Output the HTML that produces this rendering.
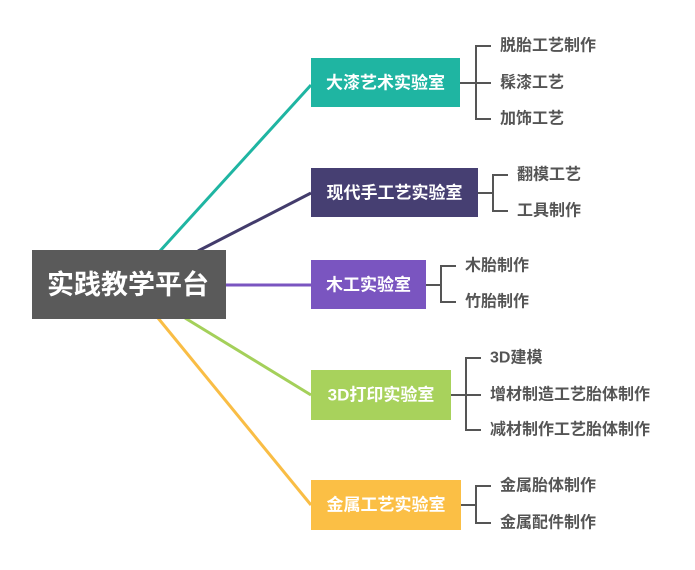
<!DOCTYPE html>
<html><head><meta charset="utf-8"><style>
html,body{margin:0;padding:0;background:#fff;}
svg{display:block;}
text{font-family:"Liberation Sans","Noto Sans CJK SC",sans-serif;font-weight:bold;dominant-baseline:central;}
.b{fill:#fff;font-size:17px;}
.l{fill:#555;font-size:16px;}
.br{fill:none;stroke:#555;stroke-width:2;}
</style></head><body>
<svg width="695" height="570" viewBox="0 0 695 570">
<g stroke-width="3" fill="none">
<path d="M160 251 L311 85" stroke="#1fb5a2"/>
<path d="M198 251 L311 193" stroke="#433c6c"/>
<path d="M226 285 L311 285" stroke="#7a55c0"/>
<path d="M185 318 L311 395" stroke="#a4d05a"/>
<path d="M158 318 L311 505" stroke="#f9bd45"/>
</g>
<rect x="32" y="250" width="194" height="69" fill="#5a5a5a"/>
<text x="128" y="285" text-anchor="middle" fill="#fff" style="font-size:27px">实践教学平台</text>

<rect x="311" y="58" width="149" height="49" fill="#1fb5a2"/>
<text class="b" x="385.5" y="83" text-anchor="middle">大漆艺术实验室</text>
<rect x="311" y="168" width="167" height="49" fill="#463f72"/>
<text class="b" x="394.5" y="193" text-anchor="middle">现代手工艺实验室</text>
<rect x="311" y="260" width="115" height="49" fill="#7a55c0"/>
<text class="b" x="368.5" y="285" text-anchor="middle">木工实验室</text>
<rect x="311" y="370" width="140" height="50" fill="#a8d25c"/>
<text class="b" x="381" y="395" text-anchor="middle">3D打印实验室</text>
<rect x="311" y="480" width="150" height="50" fill="#fbbf45"/>
<text class="b" x="386" y="505" text-anchor="middle">金属工艺实验室</text>

<path class="br" d="M460 83H476 M491 46H476V119H491 M476 83H491"/>
<text class="l" x="500" y="46">脱胎工艺制作</text>
<text class="l" x="500" y="83">髹漆工艺</text>
<text class="l" x="500" y="119">加饰工艺</text>

<path class="br" d="M478 193H493 M508 175H493V211H508"/>
<text class="l" x="517" y="175">翻模工艺</text>
<text class="l" x="517" y="211">工具制作</text>

<path class="br" d="M426 285H441 M456 266H441V302H456"/>
<text class="l" x="465" y="266">木胎制作</text>
<text class="l" x="465" y="302">竹胎制作</text>

<path class="br" d="M451 395H481 M481 358H466V430H481"/>
<text class="l" x="490" y="358">3D建模</text>
<text class="l" x="490" y="395">增材制造工艺胎体制作</text>
<text class="l" x="490" y="430">减材制作工艺胎体制作</text>

<path class="br" d="M461 505H476 M491 486H476V523H491"/>
<text class="l" x="500" y="486">金属胎体制作</text>
<text class="l" x="500" y="523">金属配件制作</text>
</svg>
</body></html>
